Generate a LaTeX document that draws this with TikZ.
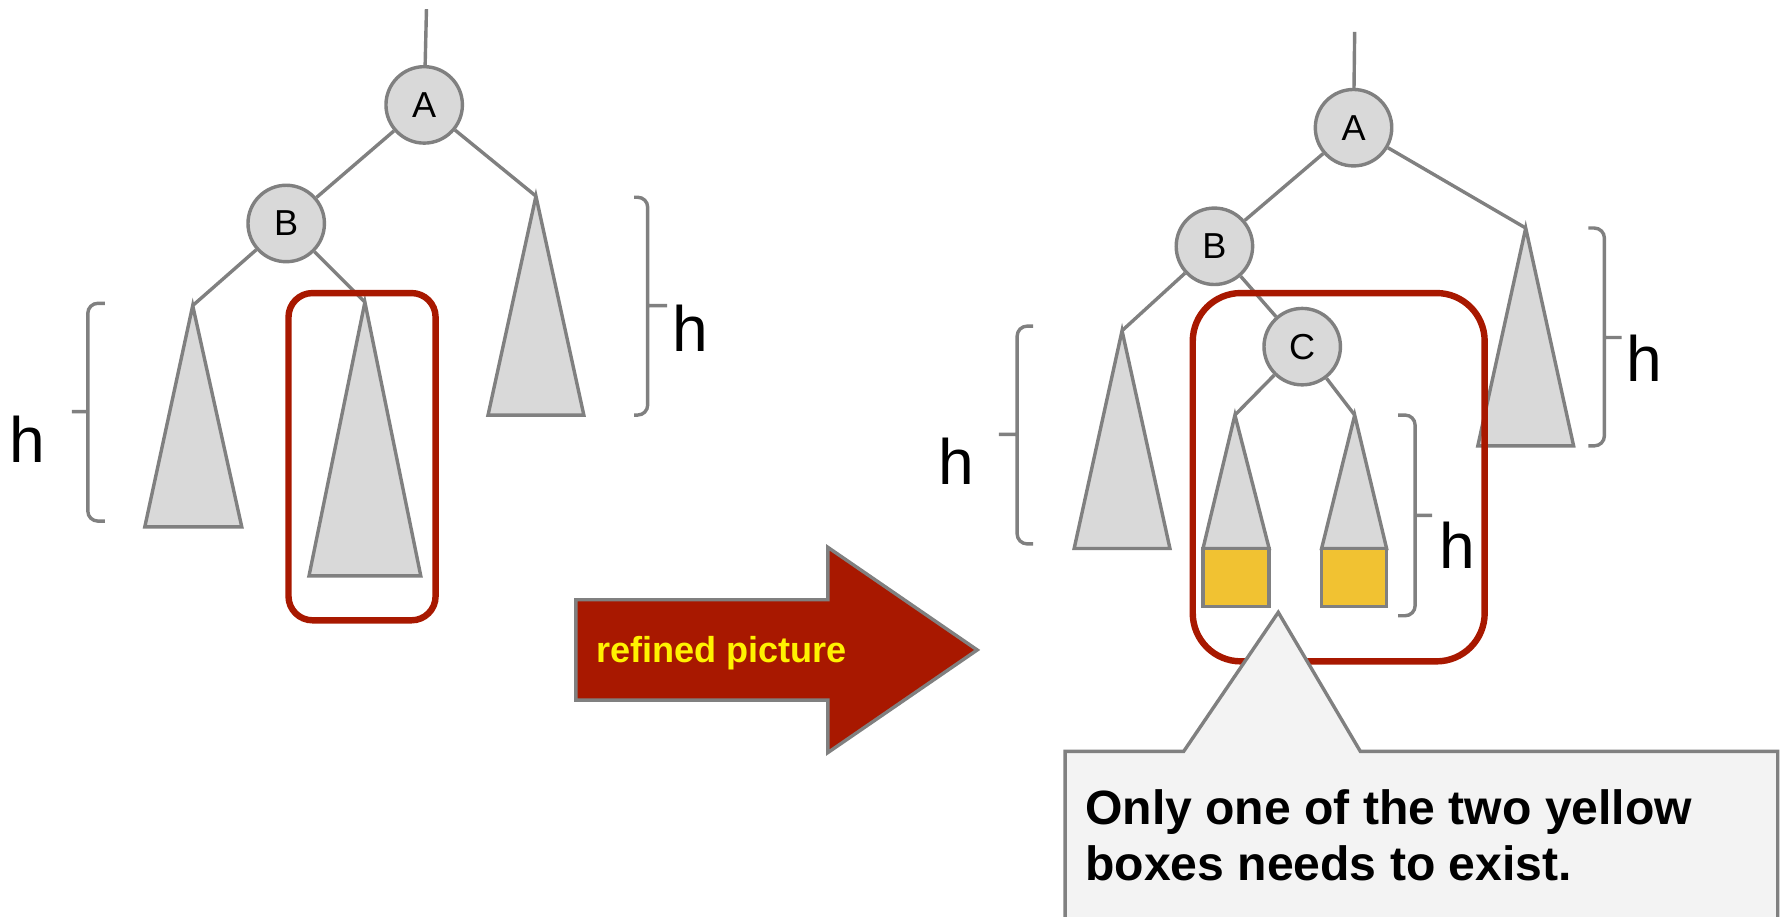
\documentclass[tikz,border=0pt]{standalone}
\usepackage{fontspec}
\setmainfont{Liberation Sans}
\usepackage{tikz}

\definecolor{boxred}{HTML}{A81800}
\definecolor{boxyellow}{HTML}{F1C232}
\definecolor{noteback}{HTML}{F3F3F3}

\tikzset{
  treenode/.style={circle, draw=gray, fill=gray!30, line width=0.85pt, minimum size=0.67cm, inner sep=0pt, font=\fontsize{9}{9}\selectfont},
  edge/.style={draw=gray, line width=0.85pt},
  subtree/.style={draw=gray, fill=gray!30, line width=0.85pt},
  hbrace/.style={draw=gray, line width=0.85pt, rounded corners=2.5pt},
  hlabel/.style={anchor=base west, inner sep=0pt, font=\fontsize{16}{16}\selectfont},
  redbox/.style={draw=boxred, line width=1.6pt},
}

\begin{document}
\begin{tikzpicture}[x=0.01cm, y=-0.01cm]
    \useasboundingbox (0,0) rectangle (1568,804);

    % Left picture: the tree before refining
    \node[treenode] (A) at (372,92) {A};
    \node[treenode] (B) at (251,196) {B};
    \coordinate (top) at (374,8);
    \coordinate (rA) at (470,172);
    \coordinate (lB) at (169,268);
    \coordinate (rB) at (320,265);

    \filldraw[subtree] (rA) -- (512,364) -- (428,364) -- cycle;
    \filldraw[subtree] (lB) -- (212,462) -- (127,462) -- cycle;
    \filldraw[subtree] (rB) -- (369,505) -- (271,505) -- cycle;

    \draw[edge] (top) -- (A);
    \draw[edge] (A) -- (B);
    \draw[edge] (A) -- (rA);
    \draw[edge] (B) -- (lB);
    \draw[edge] (B) -- (rB);

    \draw[redbox, rounded corners=6pt] (253,257) rectangle (382,544);

    % Braces and heights
    \draw[hbrace] (92,266) -- (77,266) -- (77,457) -- (92,457) (77,361) -- (63,361);
    \draw[hbrace] (556,173) -- (568,173) -- (568,364) -- (556,364) (568,268) -- (585,268);
    \node[hlabel] (hL1) at (8,406) {h};
    \node[hlabel] (hL2) at (589,308) {h};

    % The arrow
    \filldraw[draw=gray, fill=boxred, line width=0.85pt] (505,526) -- (726,526) -- (726,480) -- (857,570) -- (726,660) -- (726,614) -- (505,614) -- cycle;
    \node[anchor=base west, inner sep=0pt, text=yellow, font=\bfseries\fontsize{9}{9}\selectfont] (refined) at (522,581) {refined picture};

    % Right picture: the refined tree
    \node[treenode] (A2) at (1187,112) {A};
    \node[treenode] (B2) at (1065,216) {B};
    \node[treenode] (C2) at (1142,304) {C};
    \coordinate (top2) at (1188,28);
    \coordinate (rA2) at (1338,200);
    \coordinate (lB2) at (984,290);
    \coordinate (lC2) at (1083,364);
    \coordinate (rC2) at (1188,364);

    \filldraw[subtree] (rA2) -- (1380,391) -- (1296,391) -- cycle;
    \filldraw[subtree] (lB2) -- (1026,481) -- (942,481) -- cycle;
    \filldraw[subtree] (lC2) -- (1113,481) -- (1055,481) -- cycle;
    \filldraw[subtree] (rC2) -- (1216,481) -- (1159,481) -- cycle;
    \filldraw[draw=gray, fill=boxyellow, line width=0.85pt] (1055,481) rectangle (1113,532);
    \filldraw[draw=gray, fill=boxyellow, line width=0.85pt] (1159,481) rectangle (1216,532);

    \draw[edge] (top2) -- (A2);
    \draw[edge] (A2) -- (B2);
    \draw[edge] (A2) -- (rA2);
    \draw[edge] (B2) -- (lB2);
    \draw[edge] (B2) -- (C2);
    \draw[edge] (C2) -- (lC2);
    \draw[edge] (C2) -- (rC2);

    \draw[redbox, rounded corners=12pt] (1046,257) rectangle (1302,580);

    \draw[hbrace] (906,286) -- (892,286) -- (892,477) -- (906,477) (892,381) -- (876,381);
    \draw[hbrace] (1226,364) -- (1241,364) -- (1241,540) -- (1226,540) (1241,452) -- (1256,452);
    \draw[hbrace] (1393,200) -- (1407,200) -- (1407,391) -- (1393,391) (1407,296) -- (1422,296);
    \node[hlabel] (hR1) at (822,425) {h};
    \node[hlabel] (hR2) at (1262,499) {h};
    \node[hlabel] (hR3) at (1426,335) {h};

    % Callout
    \filldraw[draw=gray, fill=noteback, line width=0.85pt] (934,820) -- (934,659) -- (1038,659) -- (1121,537) -- (1193,659) -- (1559,659) -- (1559,820);
    \node[anchor=base west, inner sep=0pt, align=left, font=\bfseries\fontsize{12}{13.9}\selectfont] (note) at (951,772) {Only one of the two yellow\\boxes needs to exist.};
\end{tikzpicture}
\end{document}
